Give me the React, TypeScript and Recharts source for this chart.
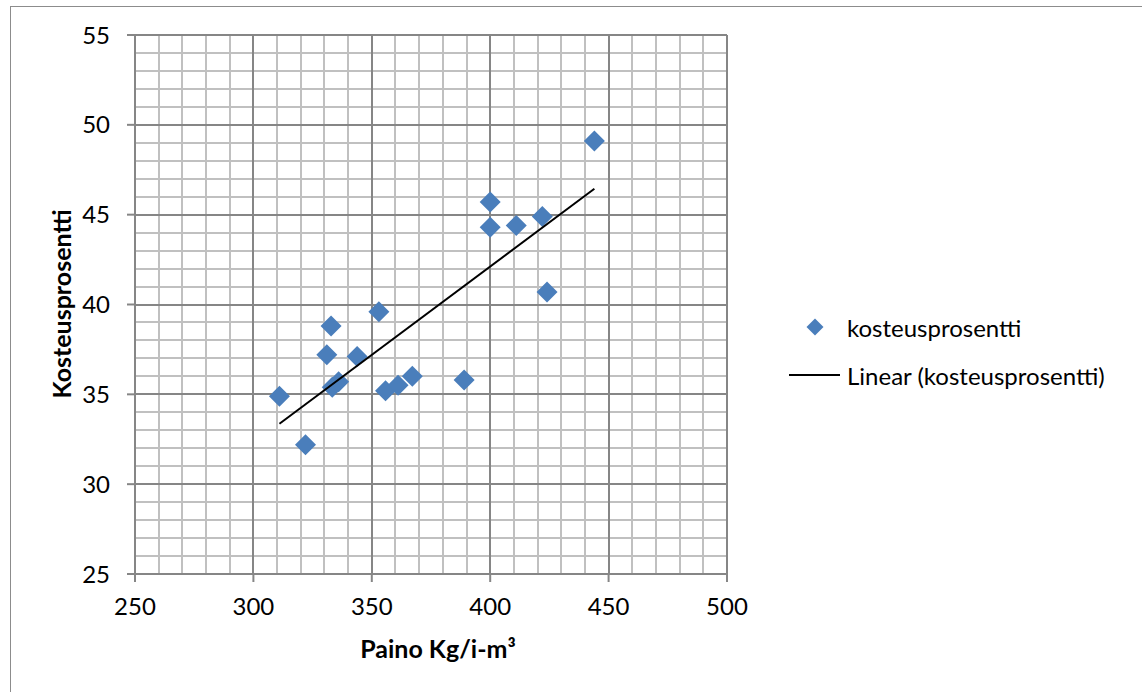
import { CartesianGrid, Legend, Scatter, ScatterChart, XAxis, YAxis } from "recharts";

// Paino (kg/i-m³) vs kosteusprosentti
const paino = [311, 322, 331, 332.8, 333.3, 336, 343.8, 353, 355.8, 361.1, 367.1, 389, 400, 400, 411, 422, 424, 444];
const kosteus = [34.9, 32.2, 37.2, 38.8, 35.4, 35.7, 37.1, 39.6, 35.2, 35.5, 36.0, 35.8, 45.7, 44.3, 44.4, 44.9, 40.7, 49.1];

// linear trendline end points (Excel "Linear (kosteusprosentti)")
const trendPaino = [311, 444];
const trendKosteus = [33.36, 46.44];

const xTicks = [250, 300, 350, 400, 450, 500];
const yTicks = [25, 30, 35, 40, 45, 50, 55];

const FONT = "Lato, 'Open Sans', sans-serif";
const BLUE = "#4a7ebb";
const AXIS = "#868686";
const MINOR = "#c0c0c0";

const points = paino.map((x, i) => ({ x, y: kosteus[i] }));
const trend = trendPaino.map((x, i) => ({ x, y: trendKosteus[i] }));

// minor grid every 10 kg / 1 %
const steps = (from: number, to: number, step: number) =>
  Array.from({ length: Math.round((to - from) / step) + 1 }, (_, i) => from + i * step);
const xMinor = steps(250, 500, 10);
const yMinor = steps(25, 55, 1);

function Diamond(props: any) {
  const { cx, cy } = props;
  if (cx == null || cy == null) return null;
  const r = 10.5;
  return (
    <polygon
      points={`${cx},${cy - r} ${cx + r},${cy} ${cx},${cy + r} ${cx - r},${cy}`}
      fill={BLUE}
    />
  );
}

const XTitle = () => (
  <text x={438} y={649} dy="0.35em" textAnchor="middle" fontFamily={FONT} fontSize={25} fontWeight="bold" fill="#000">
    Paino Kg/i-m³
  </text>
);

const YTitle = () => (
  <text
    x={62}
    y={304}
    dy="0.35em"
    textAnchor="middle"
    transform="rotate(-90 62 304)"
    fontFamily={FONT}
    fontSize={25}
    fontWeight="bold"
    fill="#000"
  >
    Kosteusprosentti
  </text>
);

function LegendBox() {
  const row = { display: "flex", alignItems: "center", height: 48 } as const;
  return (
    <div style={{ fontFamily: FONT, fontSize: 24, color: "#000" }}>
      <div style={row}>
        <svg width={58} height={24}>
          <polygon points="30,3.5 38.5,12 30,20.5 21.5,12" fill={BLUE} />
        </svg>
        <span style={{ marginLeft: 4 }}>kosteusprosentti</span>
      </div>
      <div style={row}>
        <svg width={58} height={24}>
          <line x1={4} y1={12} x2={55} y2={12} stroke="#000" strokeWidth={2} />
        </svg>
        <span style={{ marginLeft: 4 }}>Linear (kosteusprosentti)</span>
      </div>
    </div>
  );
}

export default function App() {
  return (
    <div style={{ position: "absolute", left: 0, top: 0, width: 1142, height: 692, overflow: "hidden", background: "#fff" }}>
      <div
        style={{
          position: "absolute",
          left: 10,
          top: 6,
          width: 1200,
          height: 800,
          border: "1px solid #8c8c8c",
        }}
      />
      <div style={{ position: "absolute", left: 0, top: 0 }}>
        <ScatterChart width={1142} height={692} margin={{ top: 35, right: 415, bottom: 58, left: 9 }}>
          <CartesianGrid
            stroke={MINOR}
            strokeWidth={2}
            shapeRendering="crispEdges"
            horizontalValues={yMinor}
            verticalValues={xMinor}
            fill="none"
          />
          <CartesianGrid
            stroke={AXIS}
            strokeWidth={2}
            shapeRendering="crispEdges"
            horizontalValues={yTicks}
            verticalValues={xTicks}
            fill="none"
          />
          <XAxis
            type="number"
            dataKey="x"
            domain={[250, 500]}
            ticks={xTicks}
            interval={0}
            allowDataOverflow
            height={60}
            tickSize={8}
            tickMargin={16}
            stroke={AXIS}
            strokeWidth={2}
            tick={{ fill: "#000", fontFamily: FONT, fontSize: 24 }}
            label={XTitle}
          />
          <YAxis
            type="number"
            dataKey="y"
            domain={[25, 55]}
            ticks={yTicks}
            interval={0}
            allowDataOverflow
            width={126}
            tickSize={8}
            tickMargin={17}
            stroke={AXIS}
            strokeWidth={2}
            tick={{ fill: "#000", fontFamily: FONT, fontSize: 24 }}
            label={YTitle}
          />
          <Scatter
            name="kosteusprosentti"
            data={points}
            shape={Diamond}
            isAnimationActive={false}
          />
          <Scatter
            name="Linear (kosteusprosentti)"
            data={trend}
            line={{ stroke: "#000", strokeWidth: 2 }}
            shape={() => <g />}
            isAnimationActive={false}
          />
          <Legend
            layout="vertical"
            align="center"
            verticalAlign="middle"
            content={LegendBox}
            wrapperStyle={{ position: "absolute", left: 785, top: 303, width: 350 }}
          />
        </ScatterChart>
      </div>
    </div>
  );
}
